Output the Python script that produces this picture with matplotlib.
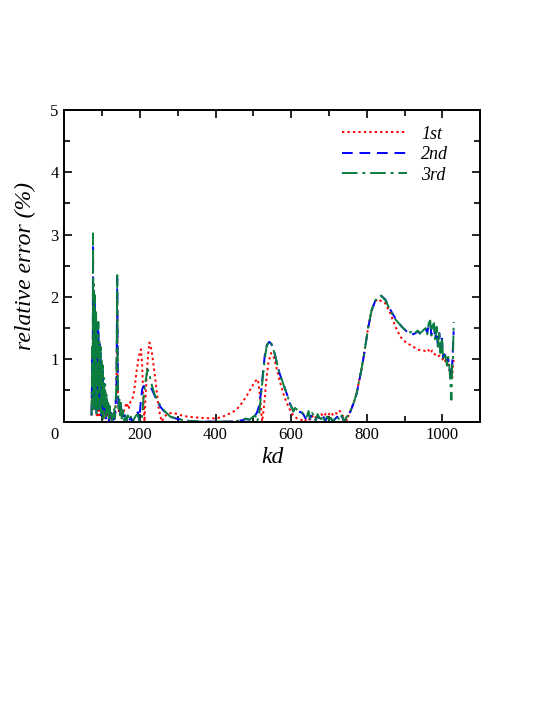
import numpy as np
import matplotlib.pyplot as plt
from matplotlib.ticker import MultipleLocator

plt.rcParams['font.family'] = ['Liberation Serif', 'DejaVu Serif']
plt.rcParams['mathtext.fontset'] = 'custom'

# ----- data -----
kd_1st = [72, 74, 75, 76, 77, 78, 80, 81, 83, 84, 86, 87, 89, 90, 92, 93, 95, 96, 98, 99,
          101, 102, 104, 105, 107, 108, 110, 112, 114, 116, 118, 120, 122, 124, 126, 128,
          130, 132, 134, 136, 138, 140, 141, 142, 144, 146, 148, 150, 155, 160, 165, 170,
          175, 180, 185, 191, 196, 200, 203, 206, 209, 212, 215, 218, 222, 225, 229, 233,
          240, 245, 249, 254, 258, 263, 271, 285, 300, 315, 340, 360, 380, 400, 415, 431,
          445, 458, 470, 484, 495, 507, 512, 516, 520, 523, 526, 529, 535, 540, 547, 552,
          556, 562, 569, 576, 582, 590, 596, 603, 609, 616, 622, 630, 636, 642, 650, 656,
          662, 668, 674, 680, 686, 692, 698, 704, 710, 716, 722, 729, 735, 742, 748, 752,
          756, 760, 767, 773, 780, 787, 796, 804, 813, 822, 830, 836, 849, 862, 876, 889,
          902, 920, 938, 950, 956, 962, 968, 973, 980, 987, 993, 1000, 1006, 1010, 1013,
          1016, 1019, 1022, 1024, 1026, 1028, 1030]
err_1st = [0.1, 0.9, 0.2, 2.0, 0.4, 1.7, 0.3, 1.6, 0.2, 1.3, 0.1, 1.2, 0.3, 1.3, 0.1, 1.0,
           0.4, 0.9, 0.1, 0.8, 0.2, 0.7, 0.05, 0.55, 0.15, 0.5, 0.05, 0.35, 0.1, 0.25, 0.02,
           0.2, 0.05, 0.12, 0.0, 0.1, 0.03, 0.15, 0.05, 0.3, 0.5, 1.8, 0.9, 0.4, 0.15, 0.3,
           0.1, 0.2, 0.1, 0.22, 0.3, 0.2, 0.32, 0.35, 0.5, 0.8, 1.0, 1.12, 1.16, 0.9, 0.37,
           0.0, 0.4, 0.75, 1.1, 1.27, 1.2, 1.05, 0.72, 0.45, 0.24, 0.08, 0.0, 0.06, 0.12,
           0.14, 0.12, 0.09, 0.07, 0.06, 0.055, 0.05, 0.07, 0.11, 0.15, 0.21, 0.3, 0.43,
           0.55, 0.66, 0.68, 0.5, 0.25, 0.0, 0.12, 0.3, 0.7, 0.95, 1.10, 1.06, 1.0, 0.85,
           0.67, 0.52, 0.4, 0.28, 0.2, 0.12, 0.08, 0.05, 0.04, 0.02, 0.0, 0.06, 0.03, 0.09,
           0.04, 0.1, 0.06, 0.12, 0.08, 0.13, 0.1, 0.15, 0.11, 0.15, 0.12, 0.17, 0.1, 0.07,
           0.02, 0.1, 0.16, 0.22, 0.33, 0.45, 0.66, 0.87, 1.2, 1.52, 1.79, 1.93, 1.97, 1.94,
           1.9, 1.74, 1.52, 1.36, 1.28, 1.21, 1.15, 1.14, 1.13, 1.16, 1.1, 1.14, 1.08, 1.04,
           1.06, 1.01, 0.95, 1.02, 0.9, 0.95, 0.82, 0.85, 0.7, 0.67, 0.9, 1.0]

kd_2nd = [72, 74, 75, 76, 77, 78, 79, 81, 82, 84, 85, 87, 88, 90, 91, 93, 94, 96, 97, 99,
          100, 102, 103, 105, 106, 108, 110, 112, 114, 116, 118, 120, 122, 124, 126, 128,
          130, 132, 134, 136, 138, 140, 141, 142, 144, 146, 148, 150, 152, 155, 158, 161,
          164, 168, 172, 176, 180, 185, 190, 195, 198, 202, 206, 210, 218, 224, 228, 233,
          240, 248, 255, 262, 270, 280, 295, 310, 330, 360, 400, 440, 470, 480, 490, 500,
          505, 510, 515, 520, 525, 530, 535, 542, 548, 556, 562, 569, 576, 582, 590, 596,
          602, 606, 610, 614, 620, 626, 632, 638, 642, 646, 650, 655, 660, 665, 670, 675,
          680, 685, 690, 695, 700, 705, 710, 716, 722, 728, 734, 740, 746, 752, 756, 760,
          767, 773, 780, 787, 796, 804, 813, 822, 830, 838, 849, 862, 876, 893, 905, 911,
          917, 923, 929, 935, 941, 947, 952, 956, 960, 964, 968, 971, 975, 978, 981, 985,
          988, 992, 995, 999, 1002, 1006, 1009, 1012, 1015, 1018, 1020, 1022, 1024, 1026,
          1028, 1030]
err_2nd = [0.1, 1.1, 0.3, 2.8, 0.5, 2.1, 0.2, 1.9, 0.4, 1.7, 0.1, 1.45, 0.3, 1.5, 0.2,
           1.25, 0.5, 1.1, 0.1, 0.95, 0.3, 0.85, 0.05, 0.65, 0.2, 0.55, 0.05, 0.4, 0.1,
           0.28, 0.02, 0.22, 0.05, 0.14, 0.0, 0.1, 0.03, 0.18, 0.05, 0.3, 0.55, 2.3, 1.1,
           0.45, 0.2, 0.3, 0.1, 0.25, 0.05, 0.15, 0.02, 0.1, 0.0, 0.08, 0.02, 0.07, 0.0,
           0.05, 0.12, 0.15, 0.02, 0.3, 0.52, 0.57, 0.57, 0.56, 0.55, 0.5, 0.4, 0.3, 0.23,
           0.18, 0.13, 0.08, 0.05, 0.03, 0.01, 0.0, 0.0, 0.0, 0.02, 0.04, 0.03, 0.06, 0.1,
           0.15, 0.25, 0.45, 0.75, 1.05, 1.22, 1.28, 1.24, 1.1, 0.95, 0.78, 0.66, 0.56,
           0.42, 0.3, 0.22, 0.17, 0.21, 0.19, 0.16, 0.15, 0.12, 0.05, 0.08, 0.15, 0.04,
           0.12, 0.09, 0.02, 0.1, 0.05, 0.03, 0.09, 0.0, 0.07, 0.02, 0.05, 0.0, 0.04, 0.08,
           0.02, 0.09, 0.0, 0.06, 0.1, 0.15, 0.21, 0.32, 0.44, 0.65, 0.86, 1.19, 1.51, 1.78,
           1.93, 1.99, 2.02, 1.96, 1.8, 1.65, 1.52, 1.45, 1.42, 1.44, 1.40, 1.42, 1.45, 1.41,
           1.44, 1.47, 1.49, 1.42, 1.55, 1.58, 1.40, 1.52, 1.55, 1.32, 1.5, 1.22, 1.42, 1.12,
           1.33, 1.02, 1.08, 1.02, 0.92, 1.02, 0.92, 0.8, 0.7, 0.72, 0.9, 1.2, 1.45]

kd_3rd = [72, 74, 75, 76, 77, 78, 79, 81, 82, 84, 85, 87, 88, 90, 91, 93, 94, 96, 97, 99,
          100, 102, 103, 105, 106, 108, 110, 112, 114, 116, 118, 120, 122, 124, 126, 128,
          130, 132, 134, 136, 138, 140, 141, 142, 144, 146, 148, 150, 152, 155, 158, 161,
          164, 168, 172, 176, 180, 185, 190, 194, 197, 200, 205, 210, 215, 220, 224, 228,
          233, 240, 248, 255, 262, 270, 280, 295, 310, 330, 360, 400, 440, 470, 480, 490,
          500, 505, 510, 515, 520, 525, 530, 535, 542, 548, 556, 562, 569, 576, 582, 590,
          596, 602, 606, 610, 614, 620, 626, 632, 638, 642, 646, 650, 655, 660, 665, 670,
          675, 680, 685, 690, 695, 700, 705, 710, 716, 722, 728, 734, 740, 746, 752, 756,
          760, 767, 773, 780, 787, 796, 804, 813, 822, 830, 838, 849, 862, 876, 893, 905,
          911, 917, 923, 929, 935, 941, 947, 952, 956, 960, 964, 968, 971, 975, 978, 981,
          985, 988, 992, 995, 999, 1002, 1006, 1009, 1012, 1015, 1018, 1020, 1022, 1024,
          1026, 1028, 1030]
err_3rd = [0.1, 1.2, 0.3, 3.02, 0.5, 2.2, 0.2, 2.03, 0.4, 1.8, 0.1, 1.5, 0.3, 1.6, 0.2,
           1.3, 0.5, 1.2, 0.1, 1.0, 0.3, 0.9, 0.05, 0.7, 0.2, 0.6, 0.05, 0.45, 0.1, 0.3,
           0.02, 0.25, 0.05, 0.15, 0.0, 0.12, 0.03, 0.2, 0.05, 0.35, 0.6, 2.35, 1.2, 0.5,
           0.2, 0.35, 0.1, 0.3, 0.05, 0.18, 0.02, 0.12, 0.0, 0.1, 0.02, 0.08, 0.0, 0.05,
           0.1, 0.12, 0.05, 0.0, 0.05, 0.4, 0.65, 0.84, 0.78, 0.68, 0.55, 0.42, 0.32, 0.25,
           0.19, 0.14, 0.08, 0.05, 0.03, 0.01, 0.0, 0.0, 0.0, 0.02, 0.05, 0.03, 0.08, 0.1,
           0.0, 0.1, 0.4, 0.7, 1.0, 1.2, 1.30, 1.25, 1.1, 0.95, 0.78, 0.66, 0.56, 0.42, 0.3,
           0.22, 0.16, 0.22, 0.2, 0.17, 0.16, 0.13, 0.06, 0.09, 0.17, 0.05, 0.14, 0.1, 0.02,
           0.12, 0.06, 0.04, 0.1, 0.0, 0.08, 0.03, 0.06, 0.0, 0.05, 0.09, 0.02, 0.1, 0.0,
           0.07, 0.11, 0.16, 0.22, 0.33, 0.45, 0.66, 0.87, 1.2, 1.52, 1.79, 1.94, 2.0, 2.02,
           1.95, 1.79, 1.64, 1.52, 1.45, 1.42, 1.44, 1.40, 1.43, 1.46, 1.42, 1.45, 1.48,
           1.50, 1.40, 1.58, 1.62, 1.38, 1.55, 1.58, 1.30, 1.52, 1.20, 1.45, 1.1, 1.35, 1.0,
           1.1, 1.04, 0.9, 1.05, 0.95, 0.75, 0.55, 0.35, 0.9, 1.0, 1.6]

labels = ['1st', '2nd', '3rd']
xticks = [0, 200, 400, 600, 800, 1000]
yticks = [1, 2, 3, 4, 5]

# ----- plot -----
fig = plt.figure(figsize=(5.45, 7.05), dpi=100)
ax = fig.add_axes([0.118, 0.402, 0.763, 0.442])

ax.plot(kd_1st, err_1st, color='#ff0000', lw=1.4, ls=(0, (1.2, 1.6)), label=labels[0])
ax.plot(kd_2nd, err_2nd, color='#0000ff', lw=1.4, ls=(0, (5.5, 3.5)), label=labels[1])
ax.plot(kd_3rd, err_3rd, color='#0b7d3e', lw=1.4, ls=(0, (8, 2.5, 1.5, 2.5)), label=labels[2])

ax.set_xlim(0, 1100)
ax.set_ylim(0, 5)
ax.set_xticks(xticks)
ax.set_xticklabels([''] + [str(v) for v in xticks[1:]])
ax.set_yticks(yticks)
ax.xaxis.set_minor_locator(MultipleLocator(100))
ax.yaxis.set_minor_locator(MultipleLocator(0.5))
ax.tick_params(which='both', direction='in', top=True, right=True, labelsize=12, width=1.2)
ax.tick_params(which='major', length=5.5, pad=4)
ax.tick_params(which='minor', length=4)
for sp in ax.spines.values():
    sp.set_linewidth(1.4)

ax.annotate('0', xy=(0, 0), xycoords='axes fraction', xytext=(-7, -4),
            textcoords='offset points', ha='center', va='top', fontsize=12)

ax.set_xlabel('kd', fontsize=17, style='italic', labelpad=3)
ax.set_ylabel('relative error (%)', fontsize=17, style='italic', labelpad=10)

leg = ax.legend(loc='upper left', bbox_to_anchor=(0.667, 0.95), frameon=False,
                borderpad=0, borderaxespad=0, handlelength=3.6, handletextpad=0.8,
                labelspacing=0.2, prop={'size': 13, 'style': 'italic'})

fig.savefig('out.png', dpi=100)
